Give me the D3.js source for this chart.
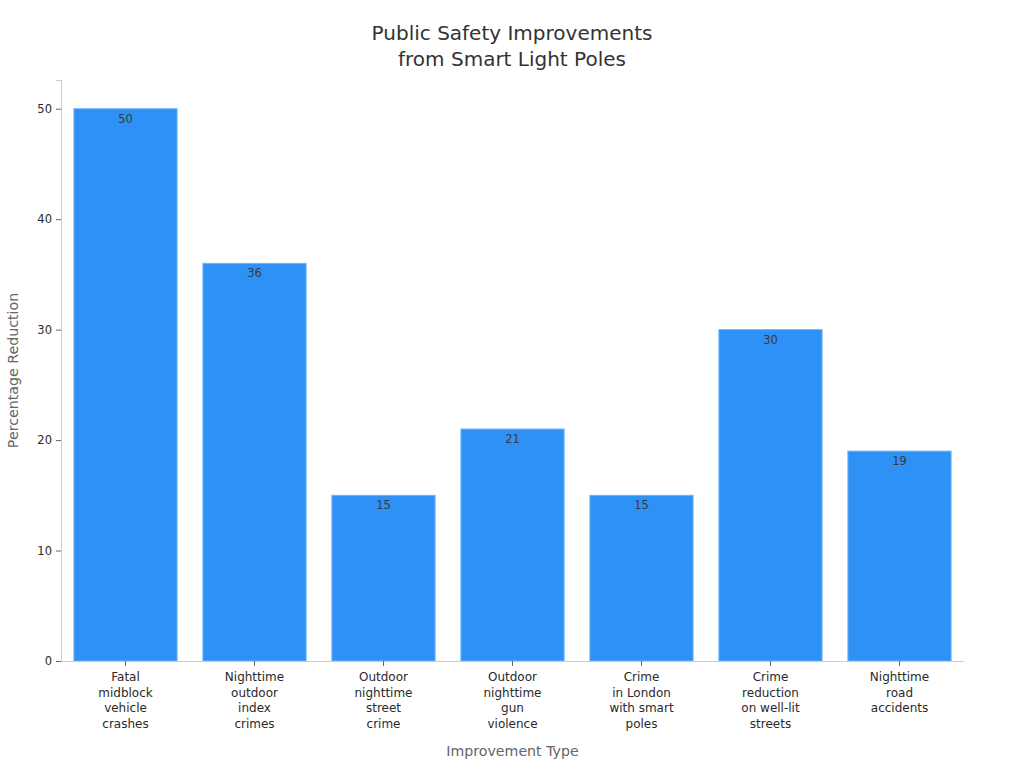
<!DOCTYPE html>
<html>
<head>
<meta charset="utf-8">
<script src="https://cdn.jsdelivr.net/npm/d3@7"></script>
<style>
  body { margin: 0; background: #fff; font-family: "DejaVu Sans", sans-serif; }
</style>
</head>
<body>
<div id="chart"></div>
<script>
const categories = [
    ["Fatal", "midblock", "vehicle", "crashes"],
    ["Nighttime", "outdoor", "index", "crimes"],
    ["Outdoor", "nighttime", "street", "crime"],
    ["Outdoor", "nighttime", "gun", "violence"],
    ["Crime", "in London", "with smart", "poles"],
    ["Crime", "reduction", "on well-lit", "streets"],
    ["Nighttime", "road", "accidents"]
];
const values = [50, 36, 15, 21, 15, 30, 19];
const yTicks = [0, 10, 20, 30, 40, 50];

const W = 1024, H = 768;
const margin = {top: 80, right: 60, bottom: 107, left: 61};
const width = W - margin.left - margin.right;
const height = H - margin.top - margin.bottom;

const svg = d3.select("#chart").append("svg")
    .attr("width", W).attr("height", H);

const g = svg.append("g").attr("transform", `translate(${margin.left},${margin.top})`);

const x = d3.scaleBand().domain(d3.range(values.length)).range([0, width])
    .paddingInner(0.2).paddingOuter(0.1);
const y = d3.scaleLinear().domain([0, 52.6]).range([height, 0]);

// bars
g.selectAll("rect.bar").data(values).enter().append("rect")
    .attr("class", "bar")
    .attr("x", (d, i) => x(i))
    .attr("y", d => y(d))
    .attr("width", x.bandwidth())
    .attr("height", d => y(0) - y(d))
    .attr("fill", "#2e91f6")
    .attr("stroke", "#6fb3f7")
    .attr("stroke-width", 1);

// value labels
g.selectAll("text.val").data(values).enter().append("text")
    .attr("class", "val")
    .attr("x", (d, i) => x(i) + x.bandwidth() / 2)
    .attr("y", d => y(d) + 14)
    .attr("text-anchor", "middle")
    .attr("font-size", 11.5)
    .attr("fill", "#3a3a3a")
    .text(d => d);

// y axis
const yAxis = g.append("g").call(d3.axisLeft(y).tickValues(yTicks).tickSize(5).tickPadding(4));
yAxis.select(".domain").attr("stroke", "#ccc");
yAxis.selectAll(".tick line").attr("stroke", "#666");
yAxis.selectAll(".tick text").attr("font-size", 11.5).attr("fill", "#2a2a2a")
    .attr("font-family", "DejaVu Sans");

// x axis
const xAxis = g.append("g").attr("transform", `translate(0,${height})`)
    .call(d3.axisBottom(x).tickSize(5).tickFormat(""));
xAxis.select(".domain").attr("stroke", "#ccc").attr("d", `M0,0.5H${width}`);
xAxis.selectAll(".tick line").attr("stroke", "#666");

xAxis.selectAll(".tick").each(function(d, i) {
    const t = d3.select(this).append("text")
        .attr("fill", "#2a2a2a")
        .attr("font-size", 12)
        .attr("font-family", "DejaVu Sans")
        .attr("text-anchor", "middle")
        .attr("y", 20);
    categories[i].forEach((line, k) => {
        t.append("tspan").attr("x", 0).attr("dy", k === 0 ? 0 : 15.7).text(line);
    });
});

// title
const title = svg.append("text")
    .attr("x", W / 2).attr("y", 40)
    .attr("text-anchor", "middle")
    .attr("font-size", 20)
    .attr("fill", "#333");
title.append("tspan").attr("x", W / 2).text("Public Safety Improvements");
title.append("tspan").attr("x", W / 2).attr("dy", 26).text("from Smart Light Poles");

// axis titles
svg.append("text")
    .attr("x", margin.left + width / 2).attr("y", 756)
    .attr("text-anchor", "middle")
    .attr("font-size", 14.2)
    .attr("fill", "#666")
    .text("Improvement Type");

svg.append("text")
    .attr("transform", `translate(18,${margin.top + height / 2}) rotate(-90)`)
    .attr("text-anchor", "middle")
    .attr("font-size", 14.2)
    .attr("fill", "#666")
    .text("Percentage Reduction");
</script>
</body>
</html>
